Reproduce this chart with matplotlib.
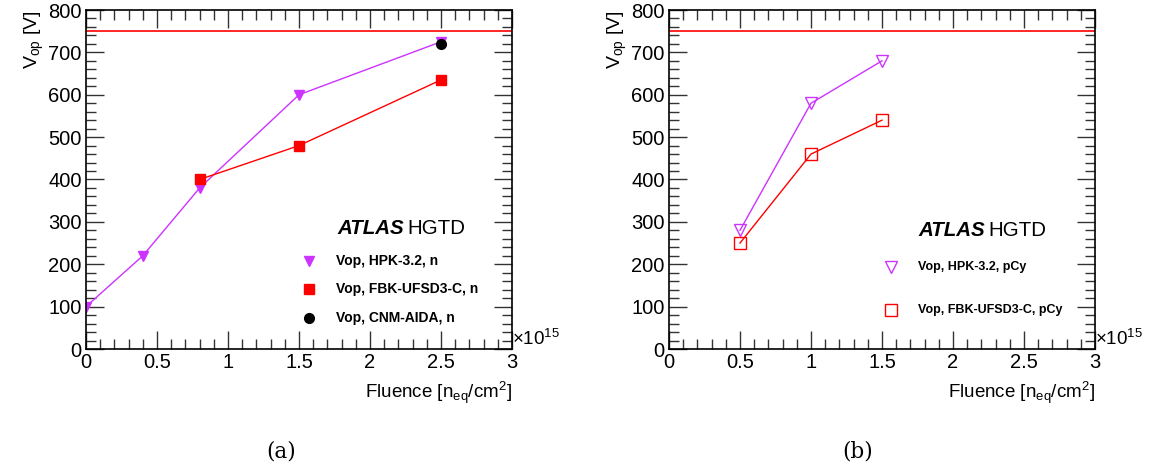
import matplotlib
matplotlib.use("Agg")
import matplotlib.pyplot as plt
from matplotlib.ticker import MultipleLocator

plt.rcParams['font.family'] = ['Liberation Sans', 'DejaVu Sans']
plt.rcParams['mathtext.fontset'] = 'custom'
plt.rcParams['mathtext.rm'] = 'Liberation Sans'
plt.rcParams['mathtext.it'] = 'Liberation Sans:italic'
plt.rcParams['mathtext.bf'] = 'Liberation Sans:bold'

# ---- data ----
hpk_n_x = [0.0, 0.4, 0.8, 1.5, 2.5]
hpk_n_y = [100, 220, 380, 600, 725]
fbk_n_x = [0.8, 1.5, 2.5]
fbk_n_y = [400, 480, 635]
cnm_n_x = [2.5]
cnm_n_y = [720]

hpk_p_x = [0.5, 1.0, 1.5]
hpk_p_y = [280, 580, 680]
fbk_p_x = [0.5, 1.0, 1.5]
fbk_p_y = [250, 460, 540]

limit_v = 750
xticks = [0, 0.5, 1, 1.5, 2, 2.5, 3]
xticklabels = ["0", "0.5", "1", "1.5", "2", "2.5", "3"]
yticks = [0, 100, 200, 300, 400, 500, 600, 700, 800]

MAG = "#cc33ff"
RED = "#ff0000"

W, H = 1157, 469
fig = plt.figure(figsize=(W / 100, H / 100), dpi=100)

TOP, BOT = 10, 349


def px_axes(x0, x1):
    return fig.add_axes([x0 / W, 1 - BOT / H, (x1 - x0) / W, (BOT - TOP) / H])


def style(ax):
    ax.set_xlim(0, 3)
    ax.set_ylim(0, 800)
    ax.set_xticks(xticks)
    ax.set_xticklabels(xticklabels)
    ax.set_yticks(yticks)
    ax.xaxis.set_minor_locator(MultipleLocator(0.1))
    ax.yaxis.set_minor_locator(MultipleLocator(20))
    ax.tick_params(which='both', direction='in', top=True, right=True,
                   labelsize=14.5, width=1, color='#333333')
    ax.tick_params(which='major', length=13)
    ax.tick_params(which='minor', length=7)
    ax.tick_params(axis='x', pad=3)
    ax.tick_params(axis='y', pad=3)
    for s in ax.spines.values():
        s.set_linewidth(1.2)
    ax.axhline(limit_v, color=RED, lw=1.2)
    ax.set_ylabel(r"V$_{\rm op}$ [V]", fontsize=14, loc='top', labelpad=2)
    ax.text(1.0, -0.128, r"Fluence [n$_{\rm eq}$/cm$^{2}$]", transform=ax.transAxes,
            ha='right', va='center', fontsize=13.5)
    ax.text(1.0, 0.0, r"$\times$10$^{15}$", transform=ax.transAxes,
            ha='left', va='bottom', fontsize=13.5)


def atlas(ax, xpx, ypx, x0, x1):
    xf = (xpx - x0) / (x1 - x0)
    yf = 1 - (ypx - TOP) / (BOT - TOP)
    t = ax.text(xf, yf, "ATLAS", transform=ax.transAxes, fontsize=14.8,
                fontweight='bold', fontstyle='italic', ha='left', va='center')
    fig.canvas.draw()
    bb = t.get_window_extent()
    ax.annotate("HGTD", xy=(bb.x1, bb.y0 + bb.height / 2), xycoords='figure pixels',
                xytext=(4, 0), textcoords='offset pixels', fontsize=14.8,
                ha='left', va='center')


# ---- left panel ----
L0, L1 = 86, 512
ax1 = px_axes(L0, L1)
style(ax1)
ax1.plot(hpk_n_x, hpk_n_y, color=MAG, lw=1.0, marker='v', ms=7, mec=MAG, mfc=MAG)
ax1.plot(fbk_n_x, fbk_n_y, color=RED, lw=1.0, marker='s', ms=7, mec=RED, mfc=RED)
ax1.plot(cnm_n_x, cnm_n_y, ls='none', marker='o', ms=7, color='black')
leg1 = [("v", MAG, MAG, "Vop, HPK-3.2, n", 261),
        ("s", RED, RED, "Vop, FBK-UFSD3-C, n", 289),
        ("o", "black", "black", "Vop, CNM-AIDA, n", 318)]
for m, fc, ec, lab, ypx in leg1:
    yy = 1 - (ypx - TOP) / (BOT - TOP)
    ax1.plot([(309 - L0) / (L1 - L0)], [yy], transform=ax1.transAxes, marker=m, ms=7,
             mfc=fc, mec=ec, ls='none', clip_on=False)
    ax1.text((336 - L0) / (L1 - L0), yy, lab, transform=ax1.transAxes, fontsize=10,
             fontweight='bold', ha='left', va='center')

# ---- right panel ----
R0, R1 = 669, 1095
ax2 = px_axes(R0, R1)
style(ax2)
ax2.plot(hpk_p_x, hpk_p_y, color=MAG, lw=1.0, marker='v', ms=8, mec=MAG, mfc='none')
ax2.plot(fbk_p_x, fbk_p_y, color=RED, lw=1.0, marker='s', ms=8, mec=RED, mfc='none')
leg2 = [("v", MAG, "Vop, HPK-3.2, pCy", 267),
        ("s", RED, "Vop, FBK-UFSD3-C, pCy", 310)]
for m, ec, lab, ypx in leg2:
    yy = 1 - (ypx - TOP) / (BOT - TOP)
    ax2.plot([(891 - R0) / (R1 - R0)], [yy], transform=ax2.transAxes, marker=m, ms=8,
             mfc='none', mec=ec, ls='none', clip_on=False)
    ax2.text((918 - R0) / (R1 - R0), yy, lab, transform=ax2.transAxes, fontsize=9,
             fontweight='bold', ha='left', va='center')

atlas(ax1, 337, 228, L0, L1)
atlas(ax2, 918, 230, R0, R1)

# ---- captions ----
fig.text(281 / W, 1 - 451 / H, "(a)", fontsize=15.5, family='DejaVu Serif',
         ha='center', va='center')
fig.text(858 / W, 1 - 451 / H, "(b)", fontsize=15.5, family='DejaVu Serif',
         ha='center', va='center')

fig.savefig("out.png", dpi=100)
